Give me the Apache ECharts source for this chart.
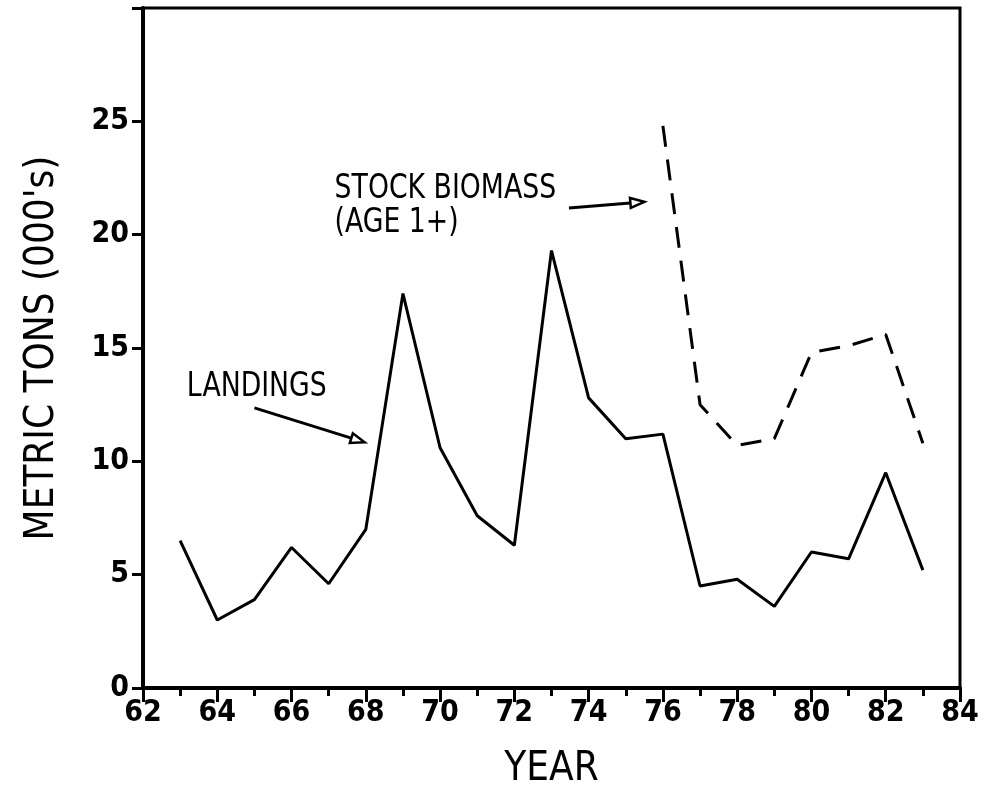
<!DOCTYPE html>
<html>
<head>
<meta charset="utf-8">
<script src="https://cdn.jsdelivr.net/npm/echarts@6/dist/echarts.min.js"></script>
<style>html,body{margin:0;padding:0;background:#fff}#c{width:985px;height:801px}</style>
</head>
<body>
<div id="c"></div>
<script>
const landingYears = [63,64,65,66,67,68,69,70,71,72,73,74,75,76,77,78,79,80,81,82,83];
const landings = [6.5,3.0,3.9,6.2,4.6,7.0,17.4,10.6,7.6,6.3,19.3,12.8,11.0,11.2,4.5,4.8,3.6,6.0,5.7,9.5,5.2];
const biomassYears = [76,77,78,79,80,81,82,83];
const biomass = [24.8,12.5,10.7,11.0,14.8,15.1,15.6,10.8];
const xTicks = [62,64,66,68,70,72,74,76,78,80,82,84];
const yTicks = [0,5,10,15,20,25];

const FONT = "'DejaVu Sans Condensed','Liberation Sans Narrow','Liberation Sans',sans-serif";
const chart = echarts.init(document.getElementById('c'), null, {renderer:'canvas'});

const option = {
  animation:false,
  backgroundColor:'#fff',
  grid:{left:143,right:25,top:8,bottom:113,show:true,borderColor:'#000',borderWidth:3,backgroundColor:'transparent'},
  xAxis:{
    type:'value',min:xTicks[0],max:xTicks[xTicks.length-1],interval:2,
    name:'YEAR',nameLocation:'middle',nameGap:62,
    nameTextStyle:{fontFamily:FONT,fontSize:40,color:'#000'},
    axisLine:{show:true,onZero:false,lineStyle:{color:'#000',width:4}},
    axisTick:{show:true,inside:false,length:14,lineStyle:{color:'#000',width:3}},
    minorTick:{show:true,splitNumber:2,length:8,lineStyle:{color:'#000',width:3}},
    splitLine:{show:false},
    axisLabel:{fontFamily:FONT,fontSize:30,fontWeight:'bold',color:'#000',margin:10,
      formatter:v=>xTicks.includes(v)?String(v):''}
  },
  yAxis:{
    type:'value',min:0,max:30,interval:5,
    name:"METRIC TONS (000's)",nameLocation:'middle',nameGap:80,nameRotate:90,
    nameTextStyle:{fontFamily:FONT,fontSize:40,color:'#000'},
    axisLine:{show:true,onZero:false,lineStyle:{color:'#000',width:4}},
    axisTick:{show:true,inside:false,length:11,lineStyle:{color:'#000',width:3}},
    splitLine:{show:false},
    axisLabel:{fontFamily:FONT,fontSize:30,fontWeight:'bold',color:'#000',margin:14,
      formatter:v=>yTicks.includes(v)?String(v):''}
  },
  series:[
    {type:'line',data:landingYears.map((y,i)=>[y,landings[i]]),showSymbol:false,
      lineStyle:{color:'#000',width:3},z:3},
    {type:'line',data:biomassYears.map((y,i)=>[y,biomass[i]]),showSymbol:false,
      lineStyle:{color:'#000',width:3,type:[21,13]},z:3}
  ]
};
chart.setOption(option);

function px(x,y){return chart.convertToPixel({gridIndex:0},[x,y]);}
function arrow(a,b){
  const p=px(a[0],a[1]), q=px(b[0],b[1]);
  const dx=q[0]-p[0], dy=q[1]-p[1], L=Math.hypot(dx,dy), ux=dx/L, uy=dy/L;
  const len=14, hw=5;
  const bx=q[0]-ux*len, by=q[1]-uy*len;
  return [
    {type:'line',shape:{x1:p[0],y1:p[1],x2:bx,y2:by},style:{stroke:'#000',lineWidth:3}},
    {type:'polygon',shape:{points:[[q[0],q[1]],[bx-uy*hw,by+ux*hw],[bx+uy*hw,by-ux*hw]]},
      style:{fill:'#fff',stroke:'#000',lineWidth:2.5}}
  ];
}
function label(t,x,y){
  const p=px(x,y);
  return {type:'text',x:p[0],y:p[1],scaleX:0.9,style:{text:t,fontFamily:FONT,fontSize:33,fill:'#000',
    textVerticalAlign:'middle',verticalAlign:'middle',textAlign:'left',align:'left'}};
}
const g=[].concat(
  [label('LANDINGS',63.18,13.25)],
  arrow([65.0,12.36],[67.97,10.84]),
  [label('STOCK BIOMASS',67.16,21.98),label('(AGE 1+)',67.16,20.5)],
  arrow([73.47,21.18],[75.5,21.45])
);
chart.setOption({graphic:g});
</script>
</body>
</html>
